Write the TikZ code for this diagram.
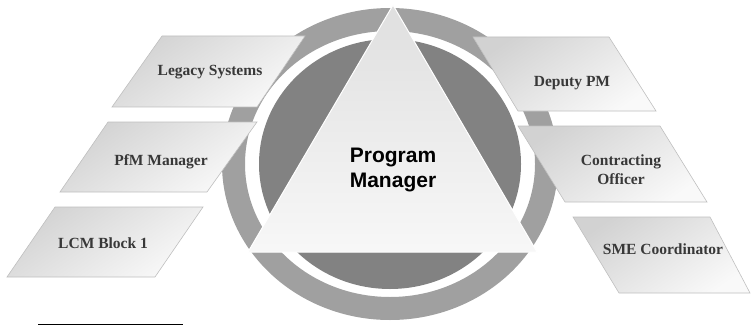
\documentclass[tikz,border=0pt]{standalone}
\usepackage{fontspec}
\setmainfont{Liberation Serif}
\newfontfamily\pmfont{Liberation Sans}
\definecolor{ringcol}{HTML}{A0A0A0}
\definecolor{disccol}{HTML}{828282}
\definecolor{labelcol}{HTML}{383838}
\tikzset{
  boxshape/.style={draw=gray!50, line width=0.6pt, top color=gray!35, bottom color=gray!5, shading angle=35},
  boxlabel/.style={text=labelcol, font=\fontsize{15.5}{19}\selectfont\bfseries, align=center, inner sep=0pt},
  triangleshape/.style={draw=white, line width=1pt, top color=gray!25, bottom color=gray!6},
  pmlabel/.style={text=black, font=\pmfont\fontsize{21}{25}\selectfont\bfseries, align=center, inner sep=0pt}
}
\begin{document}
\begin{tikzpicture}[x=1pt,y=-1pt]
\useasboundingbox (0,0) rectangle (751,326);
% ring and disc
\fill[ringcol, even odd rule] (390,164) ellipse [x radius=168, y radius=156]
                              (390,164) ellipse [x radius=145, y radius=133];
\fill[disccol] (390,164) ellipse [x radius=131, y radius=125];
% left boxes
\shadedraw[boxshape] (162,36) -- (305,36) -- (257,107) -- (112,107) -- cycle;
\shadedraw[boxshape] (108,122) -- (257,122) -- (207,192) -- (60,192) -- cycle;
\shadedraw[boxshape] (55,207) -- (203,207) -- (155,277) -- (7,277) -- cycle;
% right boxes
\shadedraw[boxshape] (473,37) -- (609,37) -- (656,111) -- (518,111) -- cycle;
\shadedraw[boxshape] (518,126) -- (660,126) -- (707,202) -- (565,202) -- cycle;
\shadedraw[boxshape] (573,217) -- (710,217) -- (750,293) -- (619,293) -- cycle;
% triangle
\shadedraw[triangleshape] (393,5) -- (537,252) -- (248,252) -- cycle;
% labels
\node[boxlabel] (legacy) at (210,72) {Legacy Systems};
\node[boxlabel] (pfm) at (161,162) {PfM Manager};
\node[boxlabel] (lcm) at (103,243) {LCM Block 1};
\node[boxlabel] (deputy) at (572,83) {Deputy PM};
\node[boxlabel] (contracting) at (621,170) {Contracting\\Officer};
\node[boxlabel] (sme) at (663,249) {SME Coordinator};
\node[pmlabel] (pm) at (393,170) {Program\\Manager};
% footnote rule
\draw[line width=1.3pt] (38,324.5) -- (183,324.5);
\end{tikzpicture}
\end{document}
